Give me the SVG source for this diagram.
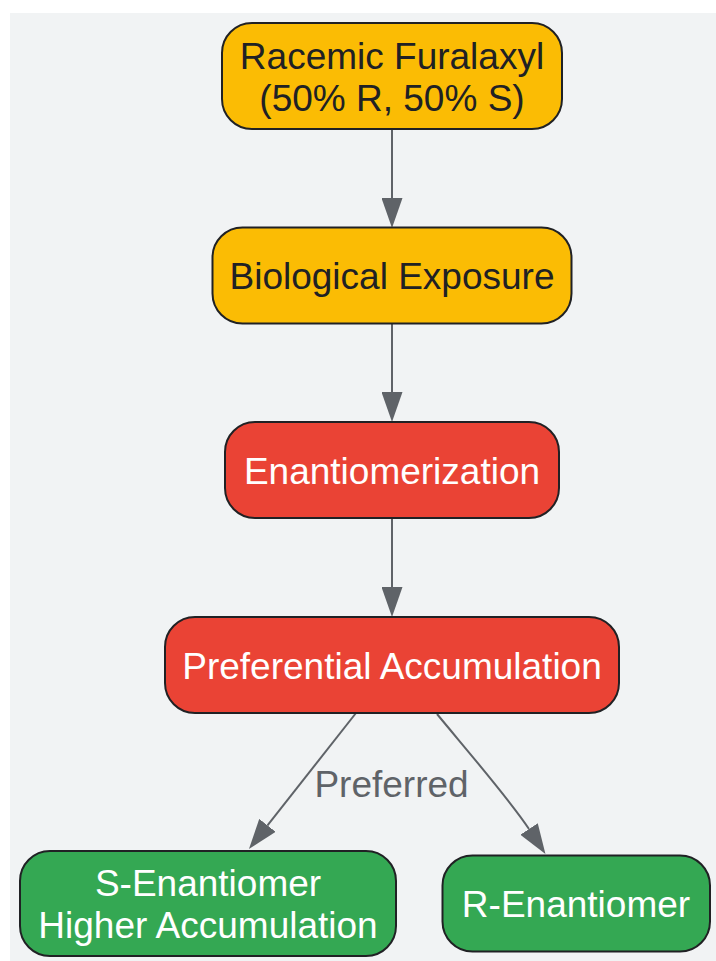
<svg xmlns="http://www.w3.org/2000/svg" width="716" height="961" viewBox="0 0 716 961">
  <style>
    .node rect { stroke: #202124; stroke-width: 2; }
    .yellow rect { fill: #FBBC04; }
    .red rect { fill: #EA4335; }
    .green rect { fill: #34A853; }
    .node text { font-family: "Liberation Sans", Arial, sans-serif; font-size: 37px; text-anchor: middle; }
    .yellow text { fill: #202124; }
    .red text, .green text { fill: #FFFFFF; }
    .edge { fill: none; stroke: #5F6368; stroke-width: 2; }
    .elabel { font-family: "Liberation Sans", Arial, sans-serif; font-size: 37px; text-anchor: middle; fill: #5F6368; }
  </style>
  <defs>
    <marker id="arrow" markerUnits="userSpaceOnUse" markerWidth="30" markerHeight="21" refX="0" refY="10.5" orient="auto">
      <path d="M0,0 L30,10.5 L0,21 Z" fill="#5F6368"/>
    </marker>
  </defs>
  <rect x="10" y="13" width="706" height="948" fill="#F1F3F4"/>
  <g id="connectors">
    <path class="edge" d="M392,129 L392,198" marker-end="url(#arrow)"/>
    <path class="edge" d="M392,323 L392,392" marker-end="url(#arrow)"/>
    <path class="edge" d="M392,518 L392,587" marker-end="url(#arrow)"/>
    <path class="edge" d="M356,713 L267.5,825.4" marker-end="url(#arrow)"/>
    <path class="edge" d="M437,714 C465,748 510,800 529,829" marker-end="url(#arrow)"/>
    <text class="elabel" x="391.5" y="797">Preferred</text>
  </g>
  <g id="racemic" class="node yellow">
    <rect x="222" y="23" width="340" height="106" rx="30" ry="30"/>
    <text x="392" y="69">Racemic Furalaxyl</text>
    <text x="392" y="111">(50% R, 50% S)</text>
  </g>
  <g id="exposure" class="node yellow">
    <rect x="212.5" y="227.5" width="359" height="96" rx="30" ry="30"/>
    <text x="392" y="289">Biological Exposure</text>
  </g>
  <g id="enantiomerization" class="node red">
    <rect x="225" y="422" width="334" height="96" rx="30" ry="30"/>
    <text x="392" y="484">Enantiomerization</text>
  </g>
  <g id="accumulation" class="node red">
    <rect x="165" y="617" width="454" height="96" rx="30" ry="30"/>
    <text x="392" y="679">Preferential Accumulation</text>
  </g>
  <g id="s-enantiomer" class="node green">
    <rect x="20" y="851" width="376" height="105" rx="30" ry="30"/>
    <text x="208" y="896">S-Enantiomer</text>
    <text x="208" y="938">Higher Accumulation</text>
  </g>
  <g id="r-enantiomer" class="node green">
    <rect x="442.5" y="855.5" width="267.5" height="96" rx="30" ry="30"/>
    <text x="576" y="917">R-Enantiomer</text>
  </g>
</svg>
